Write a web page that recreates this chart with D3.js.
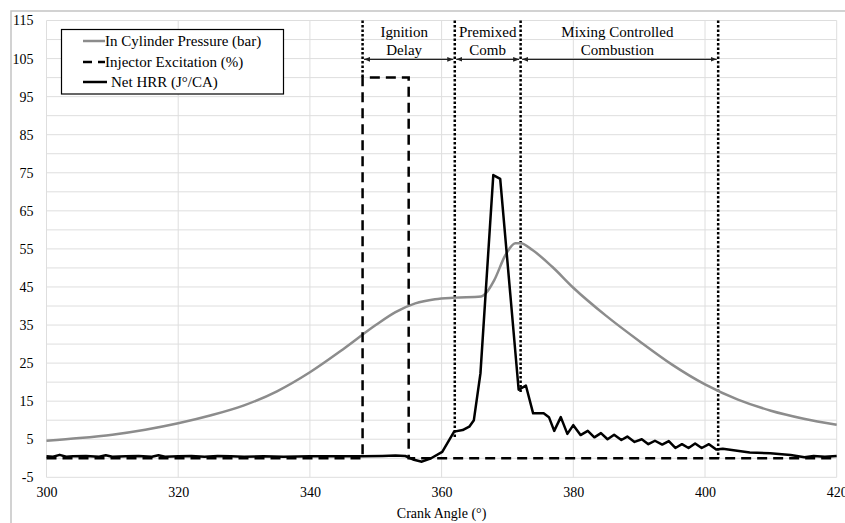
<!DOCTYPE html>
<html>
<head>
<meta charset="utf-8">
<script src="https://cdn.jsdelivr.net/npm/d3@7"></script>
<style>
  body { margin: 0; background: #fff; }
  svg text { font-family: "Liberation Serif", "Times New Roman", serif; fill: #000; }
</style>
</head>
<body>
<div id="chart"></div>
<script>
// data
const pressureCA = [300, 305, 310, 315, 320, 325, 330, 335, 340, 345, 350, 353, 356, 359, 362, 366, 366.7, 368, 369.7, 371.2, 372, 373.8, 376.8, 380, 385, 390, 395, 400, 405, 410, 415, 420];
const pressure = [4.6, 5.3, 6.2, 7.5, 9.2, 11.3, 13.9, 17.6, 22.6, 28.6, 35.0, 38.4, 40.7, 41.8, 42.2, 42.5, 43.3, 46.8, 53.4, 56.5, 56.5, 54.7, 50.3, 44.8, 37.4, 30.8, 24.6, 19.4, 15.4, 12.5, 10.4, 8.8];

const hrrCA = [300, 301, 302, 303, 304, 306, 308, 309, 310, 312, 314, 316, 317, 318, 320, 322, 324, 326, 328, 330, 333, 336, 340, 344, 348, 351, 353, 354.5, 355.8, 357, 358.4, 360.1, 361.9, 363.2, 364.2, 364.9, 365.9, 367.85, 368.9, 371.7, 372.8, 373.9, 375.5, 376.3, 377.1, 378.1, 379.1, 380.0, 381.1, 382.2, 383.2, 384.2, 385.2, 386.2, 387.3, 388.2, 389.3, 390.4, 391.4, 392.4, 393.5, 394.5, 395.5, 396.5, 397.5, 398.5, 399.5, 400.6, 401.7, 402.7, 406.8, 409.9, 413, 415.1, 416.5, 418.2, 420];
const hrr = [0.5, 0.4, 0.9, 0.4, 0.5, 0.6, 0.4, 0.8, 0.4, 0.5, 0.6, 0.4, 0.8, 0.4, 0.5, 0.6, 0.4, 0.6, 0.5, 0.4, 0.5, 0.4, 0.5, 0.5, 0.5, 0.6, 0.7, 0.6, -0.4, -0.9, 0, 1.7, 7.0, 7.4, 8.3, 10.0, 22.3, 74.4, 73.4, 18.0, 19.1, 11.8, 11.8, 10.8, 7.2, 10.8, 6.4, 8.7, 6.1, 7.2, 5.5, 6.6, 5.0, 6.2, 4.8, 5.7, 4.3, 5.0, 3.7, 4.6, 3.6, 4.5, 2.7, 3.7, 2.7, 3.9, 2.7, 3.7, 2.3, 2.5, 1.5, 1.3, 0.86, 0.25, 0.6, 0.4, 0.6];

const injectorCA = [300, 348, 348, 355, 355, 420];
const injector = [0, 0, 100, 100, 0, 0];

const phaseBounds = [348, 362, 372, 402];
const phaseLineEnds = [100, 5.3, 17, 0];
const phaseLabels = [["Ignition", "Delay"], ["Premixed", "Comb"], ["Mixing Controlled", "Combustion"]];
const phaseArrowY = 104.8;

const xTicks = [300, 320, 340, 360, 380, 400, 420];
const yTicks = [-5, 5, 15, 25, 35, 45, 55, 65, 75, 85, 95, 105, 115];
const yGrid = d3.range(-5, 116, 5);

const legendItems = ["In Cylinder Pressure (bar)", "Injector Excitation (%)", "Net HRR (J\u00b0/CA)"];
const xTitle = "Crank Angle (\u00b0)";

// layout
const W = 845, H = 523;
const margin = { left: 46.5, top: 20.5, right: 8.3, bottom: 45.7 };
const width = W - margin.left - margin.right,
    height = H - margin.top - margin.bottom;
const serif = '"Liberation Serif", "Times New Roman", serif';

const svg = d3.select("#chart").append("svg")
    .attr("width", W)
    .attr("height", H);

// chart area frame
svg.append("rect")
    .attr("x", 11).attr("y", 11)
    .attr("width", W).attr("height", H)
    .attr("fill", "none")
    .attr("stroke", "#c4c4c4")
    .attr("stroke-width", 1.5);

const g = svg.append("g").attr("transform", `translate(${margin.left},${margin.top})`);

const x = d3.scaleLinear().domain([300, 420]).range([0, width]);
const y = d3.scaleLinear().domain([-5, 115]).range([height, 0]);

// gridlines
g.append("g").selectAll("line").data(yGrid).enter().append("line")
    .attr("x1", 0).attr("x2", width)
    .attr("y1", d => y(d)).attr("y2", d => y(d))
    .attr("stroke", "#dedede").attr("stroke-width", 1);
g.append("g").selectAll("line").data(xTicks).enter().append("line")
    .attr("x1", d => x(d)).attr("x2", d => x(d))
    .attr("y1", 0).attr("y2", height)
    .attr("stroke", "#dedede").attr("stroke-width", 1);

// axes (labels only)
const yAxis = g.append("g")
    .call(d3.axisLeft(y).tickValues(yTicks).tickFormat(d => String(d)).tickSize(0).tickPadding(13));
yAxis.select(".domain").remove();
yAxis.attr("font-family", null);
yAxis.selectAll("text").style("font-family", serif).style("font-size", "14px");

const xAxis = g.append("g").attr("transform", `translate(0,${height})`)
    .call(d3.axisBottom(x).tickValues(xTicks).tickFormat(d => String(d)).tickSize(0).tickPadding(10));
xAxis.select(".domain").remove();
xAxis.attr("font-family", null);
xAxis.selectAll("text").style("font-family", serif).style("font-size", "14px");

svg.append("text")
    .attr("x", margin.left + width / 2).attr("y", 518)
    .attr("text-anchor", "middle")
    .style("font-family", serif)
    .style("font-size", "14px")
    .text(xTitle);

// phase dotted lines
g.append("g").selectAll("line").data(phaseBounds).enter().append("line")
    .attr("x1", d => x(d)).attr("x2", d => x(d))
    .attr("y1", y(115)).attr("y2", (d, i) => y(phaseLineEnds[i]))
    .attr("stroke", "#000").attr("stroke-width", 2.5)
    .attr("stroke-dasharray", "2.5,2");

// arrows
const defs = svg.append("defs");
["start", "end"].forEach(k => {
    defs.append("marker")
        .attr("id", "arr-" + k)
        .attr("viewBox", "0 0 10 10")
        .attr("refX", k === "end" ? 10 : 0).attr("refY", 5)
        .attr("markerWidth", 6).attr("markerHeight", 6)
        .attr("markerUnits", "userSpaceOnUse")
        .attr("orient", "auto")
        .append("path")
        .attr("d", k === "end" ? "M0,1L10,5L0,9Z" : "M10,1L0,5L10,9Z")
        .attr("fill", "#222");
});
const spans = d3.pairs(phaseBounds);
g.append("g").selectAll("line").data(spans).enter().append("line")
    .attr("x1", d => x(d[0]) + 1.5).attr("x2", d => x(d[1]) - 1.5)
    .attr("y1", y(phaseArrowY)).attr("y2", y(phaseArrowY))
    .attr("stroke", "#222").attr("stroke-width", 1.3)
    .attr("marker-start", "url(#arr-start)")
    .attr("marker-end", "url(#arr-end)");

const labelShift = [-4.5, 0, -2];
spans.forEach((d, i) => {
    const t = g.append("text")
        .attr("text-anchor", "middle")
        .style("font-family", serif)
        .style("font-size", "15px");
    phaseLabels[i].forEach((line, j) => {
        t.append("tspan")
            .attr("x", (x(d[0]) + x(d[1])) / 2 + labelShift[i])
            .attr("y", 16.5 + j * 18)
            .text(line);
    });
});

// series
const line = d3.line().x(d => x(d[0])).y(d => y(d[1]));

g.append("path")
    .datum(d3.zip(pressureCA, pressure))
    .attr("fill", "none")
    .attr("stroke", "#8c8c8c")
    .attr("stroke-width", 2.5)
    .attr("d", line.curve(d3.curveMonotoneX));

g.append("path")
    .datum(d3.zip(injectorCA, injector))
    .attr("fill", "none")
    .attr("stroke", "#000")
    .attr("stroke-width", 2.5)
    .attr("stroke-dasharray", "10,6")
    .attr("d", line.curve(d3.curveLinear));

g.append("path")
    .datum(d3.zip(hrrCA, hrr))
    .attr("fill", "none")
    .attr("stroke", "#000")
    .attr("stroke-width", 2.5)
    .attr("stroke-linejoin", "round")
    .attr("d", line.curve(d3.curveLinear));

// legend
const lg = svg.append("g");
lg.append("rect")
    .attr("x", 61.5).attr("y", 29.5)
    .attr("width", 222).attr("height", 64.5)
    .attr("fill", "#fff")
    .attr("stroke", "#000").attr("stroke-width", 1.2);
const legendRows = [41, 62, 82];
const legendStyles = [
    { stroke: "#8c8c8c", dash: null },
    { stroke: "#000", dash: "9,6" },
    { stroke: "#000", dash: null }
];
legendItems.forEach((name, i) => {
    lg.append("line")
        .attr("x1", 83).attr("x2", i === 2 ? 107 : 105)
        .attr("y1", legendRows[i]).attr("y2", legendRows[i])
        .attr("stroke", legendStyles[i].stroke)
        .attr("stroke-width", 2.5)
        .attr("stroke-dasharray", legendStyles[i].dash);
    lg.append("text")
        .attr("x", i === 2 ? 111 : 105)
        .attr("y", legendRows[i] + 5)
        .style("font-family", serif)
        .style("font-size", "15px")
        .text(name);
});
</script>
</body>
</html>
